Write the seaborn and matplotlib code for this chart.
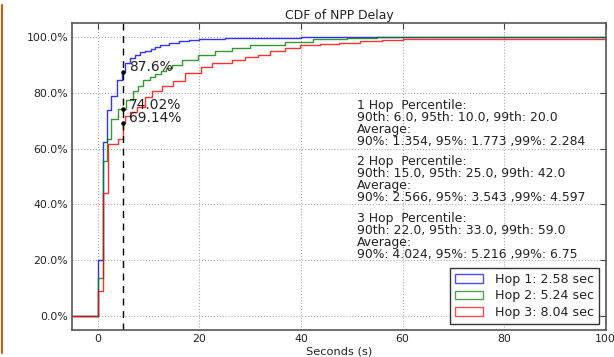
import matplotlib
matplotlib.use("Agg")
import matplotlib.pyplot as plt
from matplotlib.patches import Patch
from matplotlib.lines import Line2D
from matplotlib.ticker import PercentFormatter
import numpy as np
import pandas as pd
import seaborn as sns

# ---------------- data ----------------
hop_labels = ["Hop 1", "Hop 2", "Hop 3"]
mean_delay = [2.58, 5.24, 8.04]

hop1_x = [-5, 0, 1, 1.8, 2.7, 3.8, 4.8, 5.4, 6.4, 7.4, 8.4, 9.4, 10.4, 11.3, 12.3, 14, 16, 18, 20, 25, 30, 40, 100]
hop1_y = [0, 20, 62.2, 74, 79, 84.4, 87.6, 90.8, 92.3, 93.5, 94.5, 95.0, 95.7, 96.5, 97.1, 97.8, 98.4, 98.9, 99.2, 99.6, 99.8, 100, 100]

hop2_x = [-5, 0, 1, 1.8, 2.6, 3.9, 5.6, 6.9, 7.9, 9.0, 10.2, 11.3, 12.5, 13.5, 14.6, 16.5, 19.8, 23, 26.4, 30, 36.9, 42.4, 49, 55, 100]
hop2_y = [0, 13.5, 55.6, 63.5, 70.5, 74.02, 77.5, 80.8, 82.5, 84.4, 85.6, 86.7, 87.8, 89.0, 90.0, 91.8, 93.6, 94.9, 96.0, 97.0, 98.3, 99.3, 99.8, 100, 100]

hop3_x = [-5, 0, 1, 2, 4, 4.9, 5.4, 6.4, 7.7, 9.3, 10.6, 12.6, 14.9, 17.2, 20.3, 22.5, 26.4, 29, 31.6, 34, 36.9, 39.8, 43.8, 47.5, 51.6, 56, 60, 70, 100]
hop3_y = [0, 9, 44, 61.5, 63.5, 69.14, 71.8, 73.0, 75.0, 78.4, 80.5, 82.5, 84.2, 87.0, 89.3, 90.5, 91.9, 92.8, 93.7, 94.8, 96.0, 97.0, 97.6, 98.0, 98.5, 99.0, 99.3, 99.4, 99.5]

marker_x = 5
marker_vals = [87.6, 74.02, 69.14]

pct_90 = [6.0, 15.0, 22.0]
pct_95 = [10.0, 25.0, 33.0]
pct_99 = [20.0, 42.0, 59.0]
avg_90 = [1.354, 2.566, 4.024]
avg_95 = [1.773, 3.543, 5.216]
avg_99 = [2.284, 4.597, 6.75]

colors = ["blue", "green", "red"]

# ---------------- build long table ----------------
frames = []
for lab, xs, ys in zip(hop_labels, [hop1_x, hop2_x, hop3_x], [hop1_y, hop2_y, hop3_y]):
    frames.append(pd.DataFrame({"sec": xs, "cdf": ys, "hop": lab}))
df = pd.concat(frames, ignore_index=True)

# ---------------- figure ----------------
sns.set_style("white")
plt.rcParams["font.family"] = ["DejaVu Sans"]
fig = plt.figure(figsize=(6.14, 3.57), dpi=100)
ax = fig.add_axes([0.1178, 0.0756, 0.8687, 0.86])

sns.lineplot(data=df, x="sec", y="cdf", hue="hop", palette=colors,
             estimator=None, sort=False, drawstyle="steps-post",
             linewidth=1.0, alpha=0.8, legend=False, ax=ax)

ax.axvline(marker_x, color="black", linestyle="--", linewidth=1.0, dashes=(5, 4))
for v in marker_vals:
    ax.plot([marker_x], [v], "o", color="black", markersize=2.2)
    ax.annotate(f"{v}%", xy=(marker_x, v), xytext=(4, 3.5), textcoords="offset points",
                ha="left", va="center", fontsize=9.9, color="#222222")

ax.set_xlim(-5, 100)
ax.set_ylim(-5, 105)
ax.set_xticks([0, 20, 40, 60, 80, 100])
ax.set_yticks([0, 20, 40, 60, 80, 100])
ax.yaxis.set_major_formatter(PercentFormatter(xmax=100, decimals=1))
ax.tick_params(direction="in", top=True, right=True, length=4, width=0.8,
               labelsize=7.8, pad=3, colors="#444444", labelcolor="#222222")
ax.grid(True, linestyle=":", color="#aaaaaa", linewidth=0.8)
for s in ax.spines.values():
    s.set_color("#555555")
    s.set_linewidth(1.2)

ax.set_title("CDF of NPP Delay", fontsize=8.9, pad=3, color="#222222")
ax.set_xlabel("Seconds (s)", fontsize=8.2, labelpad=2, color="#222222")
ax.set_ylabel("")

block_y = [77.6, 57.8, 37.2]
for i in range(3):
    txt = (f"{i+1} Hop  Percentile:\n"
           f"90th: {pct_90[i]}, 95th: {pct_95[i]}, 99th: {pct_99[i]}\n"
           f"Average:\n"
           f"90%: {avg_90[i]}, 95%: {avg_95[i]} ,99%: {avg_99[i]}")
    ax.text(51, block_y[i], txt, ha="left", va="top", fontsize=8.9,
            linespacing=0.9, color="#222222")

handles = [Patch(facecolor="none", edgecolor=c, linewidth=1.0, alpha=0.7) for c in colors]
labels = [f"{h}: {m} sec" for h, m in zip(hop_labels, mean_delay)]
leg = ax.legend(handles, labels, loc="lower right", fontsize=9.1, fancybox=False,
                edgecolor="#333333", framealpha=1, labelspacing=0.25, borderpad=0.4,
                handletextpad=1.0, handlelength=2.2, borderaxespad=0.5)
leg.get_frame().set_linewidth(1.0)
for t in leg.get_texts():
    t.set_color("#222222")

fig.add_artist(Line2D([0.0025, 0.0025], [0.011, 0.986], color="#c55a11",
                      linewidth=1.5, transform=fig.transFigure))

fig.savefig("out.png", dpi=100)
